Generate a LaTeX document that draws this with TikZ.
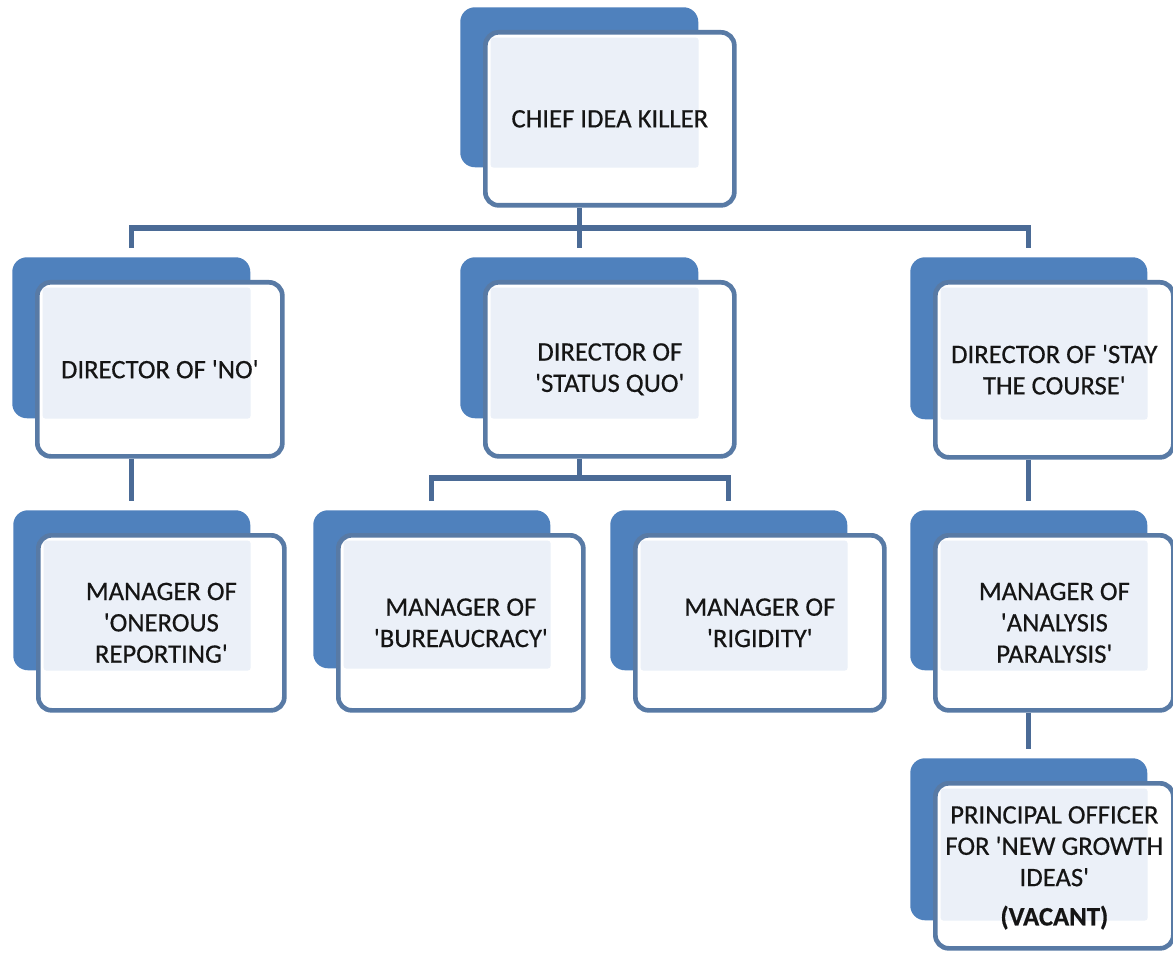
\documentclass[tikz,border=0pt]{standalone}
\usepackage{fontspec}
\newfontfamily\cf[FakeBold=0.5]{Carlito}
\usetikzlibrary{calc}
\definecolor{backblue}{HTML}{4F81BD}
\definecolor{edgeblue}{HTML}{587AA5}
\definecolor{innerfill}{HTML}{EBF0F8}
\definecolor{connblue}{HTML}{4B6B96}
\definecolor{txt}{HTML}{151515}
\tikzset{
  backbox/.style={fill=backblue, rounded corners=11pt, inner sep=0pt, anchor=north west},
  frontbox/.style={fill=white, draw=edgeblue, line width=3.5pt, rounded corners=10pt,
    inner sep=0pt, anchor=north west, align=center, text=txt,
    font=\cf\fontsize{20}{23.5}\selectfont},
  conn/.style={draw=connblue, line width=4pt},
}
% name, back x, back y, back w, back h, front w, front h, text
\newcommand\obox[8]{%
  \node[backbox, minimum width={#4*0.75pt}, minimum height={#5*0.75pt}] (#1b) at (#2,#3) {};
  \node[frontbox, minimum width={#6*0.75pt}, minimum height={#7*0.75pt},
    path picture={\fill[innerfill, rounded corners=2pt]
      ([shift={(4pt,-4pt)}]path picture bounding box.north west) rectangle (#1b.south east);}]
    (#1) at (#2+23,#3+23) {#8};
}
\begin{document}
\begin{tikzpicture}[x=0.75pt, y=-0.75pt]
  \fill[white] (0,0) rectangle (1173,955);
  \useasboundingbox (0,0) rectangle (1173,955);
  \coordinate (bar) at (0,228);
  \coordinate (sqbar) at (0,478);

  \obox{chief}{460}{7}{238}{160}{249}{173}{CHIEF IDEA KILLER}
  \obox{no}{12}{257}{238}{161}{245}{174}{DIRECTOR OF 'NO'}
  \obox{sq}{460}{257}{238}{161}{249}{174}{\rule{0pt}{12pt}DIRECTOR OF\\'STATUS QUO'}
  \obox{stay}{910}{257}{237}{162}{238}{175}{DIRECTOR OF 'STAY\\THE COURSE'}
  \obox{onerous}{13}{510}{237}{160}{246}{175}{MANAGER OF\\'ONEROUS\\REPORTING'}
  \obox{bureau}{313}{510}{237}{158}{245}{175}{MANAGER OF\\'BUREAUCRACY'}
  \obox{rigid}{610}{510}{237}{160}{249}{175}{MANAGER OF\\'RIGIDITY'}
  \obox{analysis}{910}{510}{237}{160}{238}{175}{MANAGER OF\\'ANALYSIS\\PARALYSIS'}
  \obox{principal}{910}{758}{237}{162}{238}{165}{\fontsize{20}{22}\selectfont \rule{0pt}{16pt}PRINCIPAL OFFICER\\FOR 'NEW GROWTH\\IDEAS'\\[6pt]\textbf{(VACANT)}}

  % chief to directors
  \draw[conn] (chiefb.south |- chief.south) -- (chiefb.south |- bar);
  \draw[conn] ($(nob.north)+(0,-9)$) -- (nob.north |- bar) -- (stayb.north |- bar) -- ($(stayb.north)+(0,-9)$);
  \draw[conn] (sqb.north |- bar) -- ($(sqb.north)+(0,-9)$);
  % director no
  \draw[conn] (nob.south |- no.south) -- ($(nob.south |- onerousb.north)+(0,-9)$);
  % director status quo
  \draw[conn] (sqb.south |- sq.south) -- (sqb.south |- sqbar);
  \draw[conn] ($(bureaub.north)+(0,-9)$) -- (bureaub.north |- sqbar) -- (rigidb.north |- sqbar) -- ($(rigidb.north)+(0,-9)$);
  % director stay the course
  \draw[conn] (stayb.south |- stay.south) -- ($(stayb.south |- analysisb.north)+(0,-9)$);
  \draw[conn] (analysisb.south |- analysis.south) -- ($(analysisb.south |- principalb.north)+(0,-9)$);
\end{tikzpicture}
\end{document}
